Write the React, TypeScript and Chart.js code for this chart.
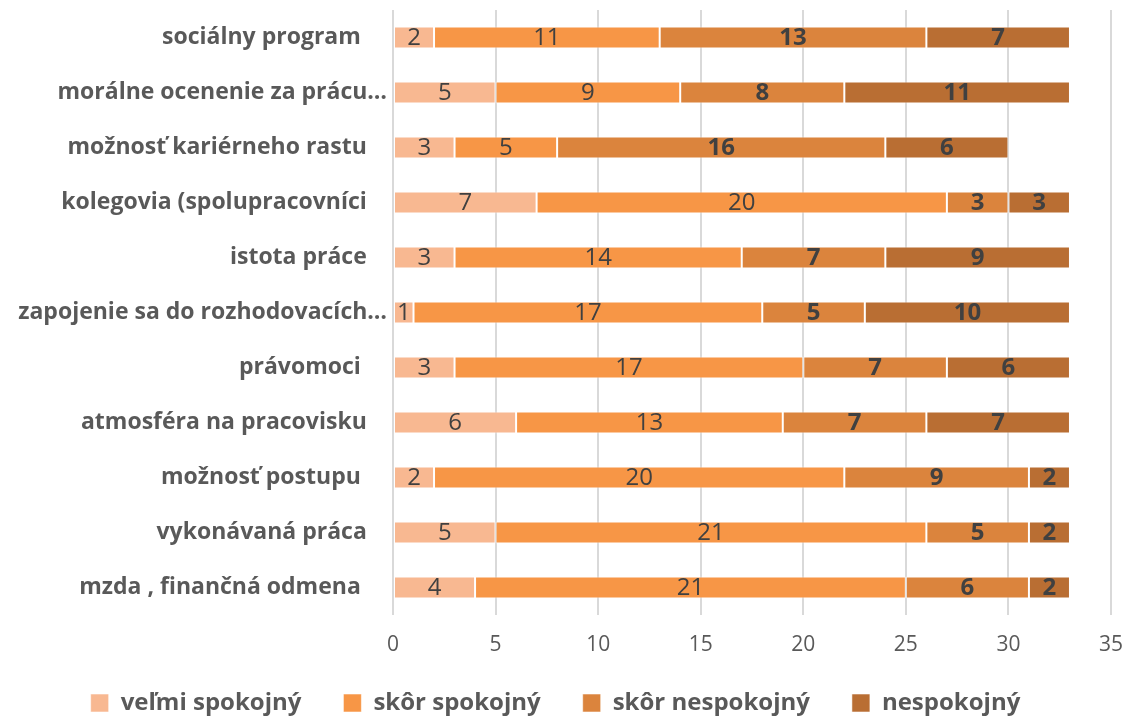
import React, { useEffect, useRef } from "react";
import { Chart, registerables } from "chart.js";

Chart.register(...registerables);

const categories = [
  "sociálny program ",
  "morálne ocenenie za prácu…",
  "možnosť kariérneho rastu",
  "kolegovia (spolupracovníci",
  "istota práce",
  "zapojenie sa do rozhodovacích…",
  "právomoci ",
  "atmosféra na pracovisku",
  "možnosť postupu ",
  "vykonávaná práca",
  "mzda , finančná odmena ",
];

const seriesNames = ["veľmi spokojný", "skôr spokojný", "skôr nespokojný", "nespokojný"];
const velmiSpokojny = [2, 5, 3, 7, 3, 1, 3, 6, 2, 5, 4];
const skorSpokojny = [11, 9, 5, 20, 14, 17, 17, 13, 20, 21, 21];
const skorNespokojny = [13, 8, 16, 3, 7, 5, 7, 7, 9, 5, 6];
const nespokojny = [7, 11, 6, 3, 9, 10, 6, 7, 2, 2, 2];
const seriesColors = ["#F8B891", "#F79646", "#DB843D", "#B96E33"];
const xMin = 0;
const xMax = 35;
const xStep = 5;

const FONT = "'Open Sans', 'Noto Sans', sans-serif";

const valueLabels = {
  id: "valueLabels",
  afterDatasetsDraw(chart: any) {
    const ctx = chart.ctx;
    ctx.save();
    ctx.textAlign = "center";
    ctx.textBaseline = "middle";
    ctx.fillStyle = "#404040";
    chart.data.datasets.forEach((ds: any, di: number) => {
      const meta = chart.getDatasetMeta(di);
      const bold = di >= 2;
      ctx.font = `${bold ? "bold " : ""}24px ${FONT}`;
      meta.data.forEach((el: any, i: number) => {
        const v = ds.data[i];
        if (!v) return;
        const p = el.getProps(["x", "y", "base"], true);
        ctx.fillText(String(v), (p.x + p.base) / 2, p.y + 1);
      });
    });
    ctx.restore();
  },
};

export default function App() {
  const ref = useRef<HTMLCanvasElement>(null);
  useEffect(() => {
    const allData = [velmiSpokojny, skorSpokojny, skorNespokojny, nespokojny];
    const chart = new Chart(ref.current as HTMLCanvasElement, {
      type: "bar",
      data: {
        labels: categories,
        datasets: allData.map((d, i) => ({
          label: seriesNames[i],
          data: d,
          backgroundColor: seriesColors[i],
          borderColor: "rgba(255,255,255,0.55)",
          borderWidth: 1,
          borderSkipped: false,
          barPercentage: 0.8,
          categoryPercentage: 0.5,
        })),
      },
      options: {
        indexAxis: "y",
        responsive: false,
        maintainAspectRatio: false,
        animation: false,
        layout: { padding: { top: 10, right: 17, left: 0, bottom: -7 } },
        scales: {
          x: {
            stacked: true,
            min: xMin,
            max: xMax,
            ticks: {
              stepSize: xStep,
              color: "#595959",
              font: { family: FONT, size: 21 },
              mirror: true,
              padding: -43,
            },
            grid: { color: "#D9D9D9", lineWidth: 2, drawTicks: false },
            border: { display: false },
            afterFit: (s: any) => {
              s.height = 34;
              s.paddingLeft = 0;
              s.paddingRight = 0;
            },
          },
          y: {
            stacked: true,
            ticks: {
              color: "#595959",
              font: { family: FONT, size: 23, weight: "bold" },
              padding: 6,
              callback: (_v: any, i: number) => {
                const l = categories[i];
                return l.endsWith("…") ? l : l + "   \u200A";
              },
            },
            grid: { display: false, drawTicks: false },
            border: { display: false },
            afterFit: (s: any) => {
              s.width = 393;
              s.paddingTop = 0;
              s.paddingBottom = 0;
            },
          },
        },
        plugins: {
          legend: {
            position: "bottom",
            labels: {
              boxWidth: 18,
              boxHeight: 18,
              padding: 42,
              color: "#595959",
              font: { family: FONT, size: 24, weight: "bold" },
            },
          },
          tooltip: { enabled: false },
        },
      },
      plugins: [valueLabels],
    } as any);
    return () => chart.destroy();
  }, []);
  return (
    <div style={{ position: "absolute", left: 0, top: 0, width: 1128, height: 718, background: "#fff" }}>
      <canvas ref={ref} width={1128} height={718} />
    </div>
  );
}
